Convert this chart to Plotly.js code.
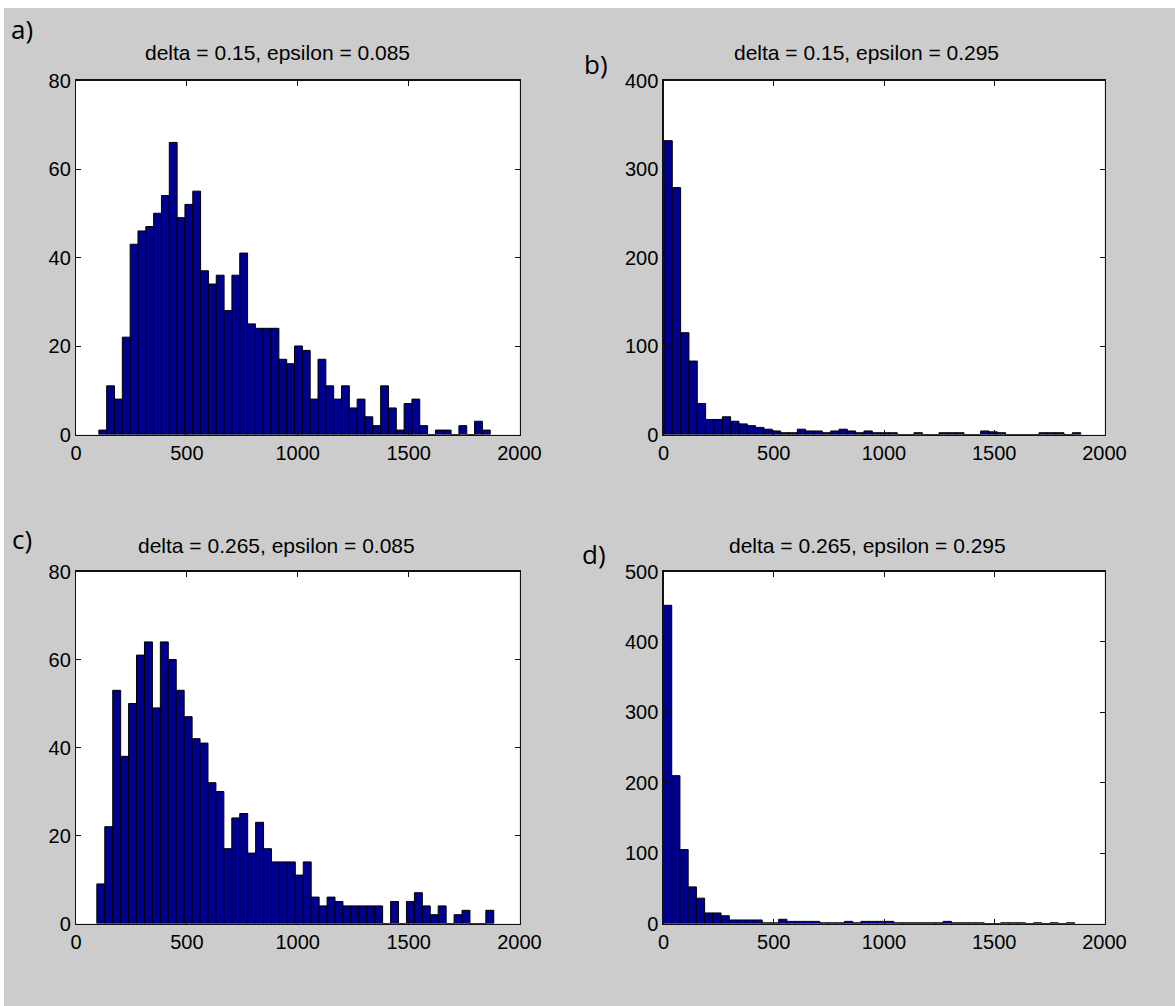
<!DOCTYPE html>
<html>
<head>
<meta charset="utf-8">
<script src="https://cdn.plot.ly/plotly-3.0.1.min.js"></script>
<style>
  html, body { margin: 0; padding: 0; background: #ffffff; }
  #fig { position: absolute; left: 4px; top: 8px; width: 1171px; height: 998px; }
</style>
</head>
<body>
<div id="fig"></div>
<script>
// Histogram counts, 50 bins per panel
const countsA = [1, 11, 8, 22, 43, 46, 47, 50, 54, 66, 49, 52, 55, 37, 34, 36, 28, 36, 41, 25,
                 24, 24, 24, 17, 16, 20, 19, 8, 17, 11, 8, 11, 6, 8, 4, 2, 11, 6, 1, 7,
                 8, 2, 0, 1, 1, 0, 2, 0, 3, 1];
const countsB = [332, 279, 115, 83, 35, 17, 17, 20, 15, 12, 10, 8, 6, 4, 2, 2, 6, 4, 4, 2,
                 4, 6, 4, 2, 4, 2, 2, 2, 0, 0, 2, 0, 0, 2, 2, 2, 0, 0, 4, 3,
                 2, 0, 0, 0, 0, 2, 2, 2, 0, 2];
const countsC = [9, 22, 53, 38, 50, 61, 64, 49, 64, 60, 53, 47, 42, 41, 32, 30, 17, 24, 25, 16,
                 23, 17, 14, 14, 14, 11, 14, 6, 4, 6, 5, 4, 4, 4, 4, 4, 0, 5, 0, 5,
                 7, 4, 2, 4, 0, 2, 3, 0, 0, 3];
const countsD = [452, 210, 105, 52, 36, 15, 15, 11, 5, 5, 5, 5, 1, 1, 6, 3, 3, 3, 3, 1,
                 1, 1, 3, 1, 3, 3, 3, 3, 1, 1, 1, 1, 1, 1, 3, 1, 1, 1, 1, 0,
                 0, 1, 1, 1, 0, 1, 0, 1, 0, 1];

// Bin layout: left edge of the first bin and the bin width
const binStart = [103, 2, 94, 0];
const binWidth = [35.3, 37.8, 35.8, 37.3];

const panelTitles = ['delta = 0.15, epsilon = 0.085', 'delta = 0.15, epsilon = 0.295',
                     'delta = 0.265, epsilon = 0.085', 'delta = 0.265, epsilon = 0.295'];
const panelLetters = ['a)', 'b)', 'c)', 'd)'];
const xTicks = [0, 500, 1000, 1500, 2000];
const yMax = [80, 400, 80, 500];
const yStep = [20, 100, 20, 100];

const allCounts = [countsA, countsB, countsC, countsD];

// Figure geometry in page pixels
const FIG = { left: 4, top: 8, w: 1171, h: 998 };
const px2x = p => (p - FIG.left) / FIG.w;
const px2y = p => 1 - (p - FIG.top) / FIG.h;
const colPx = [[76, 519.5], [663.5, 1104.5]];
const rowPx = [[80.5, 434.5], [571.5, 923.5]];
const titlePos = [[277, 52], [866, 52], [276, 545], [867, 545]];
const letterPos = [[22, 29], [596, 64], [22, 539], [594, 554]];

const FONT = 'Liberation Sans, Arial, sans-serif';
const BAR = 'rgb(0,0,143)';

const traces = [];
const layout = {
  width: FIG.w, height: FIG.h,
  margin: { l: 0, r: 0, t: 0, b: 0 },
  paper_bgcolor: '#cccccc',
  plot_bgcolor: '#ffffff',
  showlegend: false,
  bargap: 0,
  font: { family: FONT, color: '#000000', size: 20 },
  annotations: []
};

for (let i = 0; i < 4; i++) {
  const counts = allCounts[i];
  const centers = counts.map((_, k) => binStart[i] + (k + 0.5) * binWidth[i]);
  const ax = i === 0 ? '' : String(i + 1);
  traces.push({
    type: 'bar',
    x: centers,
    y: counts,
    width: binWidth[i],
    xaxis: 'x' + ax,
    yaxis: 'y' + ax,
    marker: { color: BAR, line: { color: '#000000', width: 1 } },
    hoverinfo: 'x+y'
  });

  const col = colPx[i % 2], row = rowPx[Math.floor(i / 2)];
  const common = {
    showgrid: false, zeroline: false,
    showline: true, linecolor: '#111111', linewidth: 1.2, mirror: 'ticks',
    ticks: 'inside', ticklen: 5, tickcolor: '#111111', tickwidth: 1,
    tickfont: { family: FONT, size: 20, color: '#000000' }
  };
  layout['xaxis' + ax] = Object.assign({}, common, {
    domain: [px2x(col[0]), px2x(col[1])],
    anchor: 'y' + ax,
    range: [0, 2000],
    tickvals: xTicks,
    ticktext: xTicks.map(String)
  });
  const yTicks = [];
  for (let v = 0; v <= yMax[i]; v += yStep[i]) yTicks.push(v);
  layout['yaxis' + ax] = Object.assign({}, common, {
    domain: [px2y(row[1]), px2y(row[0])],
    anchor: 'x' + ax,
    range: [0, yMax[i]],
    tickvals: yTicks,
    ticktext: yTicks.map(String)
  });

  layout.annotations.push({
    xref: 'paper', yref: 'paper',
    x: px2x(titlePos[i][0]), y: px2y(titlePos[i][1]),
    xanchor: 'center', yanchor: 'middle',
    text: panelTitles[i], showarrow: false,
    font: { family: FONT, size: 21, color: '#000000' }
  });
  layout.annotations.push({
    xref: 'paper', yref: 'paper',
    x: px2x(letterPos[i][0]), y: px2y(letterPos[i][1]),
    xanchor: 'center', yanchor: 'middle',
    borderpad: 0,
    text: panelLetters[i], showarrow: false,
    font: { family: 'Open Sans, sans-serif', size: 26, color: '#000000' }
  });
}

Plotly.newPlot('fig', traces, layout, { displayModeBar: false, staticPlot: true });
</script>
</body>
</html>
